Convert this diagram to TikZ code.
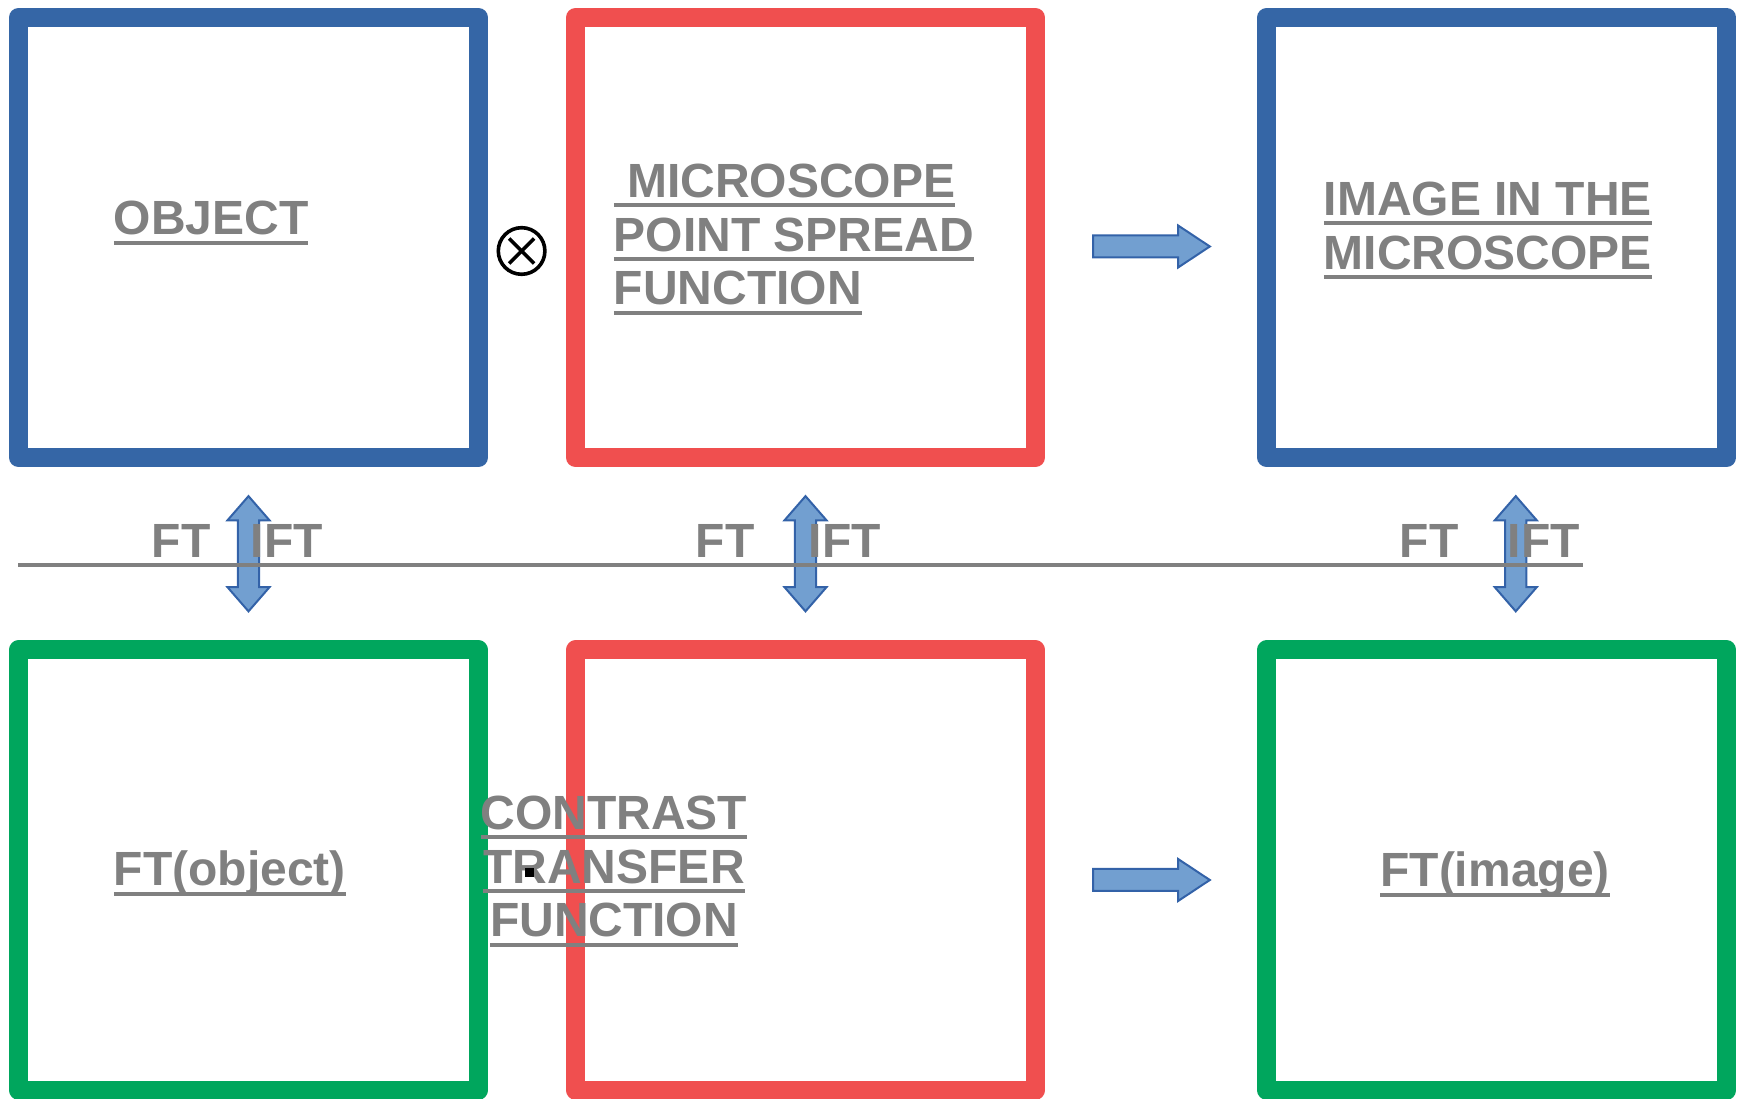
\documentclass[tikz,border=0pt]{standalone}
\usepackage{fontspec}
\setmainfont{Liberation Sans}
\usetikzlibrary{shapes.arrows,calc}
\definecolor{boxblue}{HTML}{3566A6}
\definecolor{boxred}{HTML}{F04F4F}
\definecolor{boxgreen}{HTML}{00A65D}
\definecolor{arrowfill}{HTML}{729FD0}
\definecolor{arrowline}{HTML}{3362A8}
\definecolor{labelgray}{HTML}{808080}
\newcommand{\ulbox}[1]{\setbox0\hbox{#1}\rlap{\rule[-2.4pt]{\wd0}{1pt}}\box0}

\begin{document}
\begin{tikzpicture}[x=0.25pt,y=-0.25pt,
  panel/.style={draw=#1,line width=4.75pt,line join=round,minimum width=115pt,minimum height=110pt,inner sep=0pt},
  caption/.style={text=labelgray,font=\fontsize{12pt}{13.4pt}\selectfont\bfseries,inner sep=0pt},
  ftarrow/.style={double arrow,rotate=90,fill=arrowfill,draw=arrowline,line width=0.5pt,minimum height=28.8pt,inner xsep=0pt,inner ysep=2.4pt,double arrow head extend=2.6pt,double arrow tip angle=82},
  maparrow/.style={single arrow,fill=arrowfill,draw=arrowline,line width=0.5pt,minimum height=29.2pt,inner xsep=0pt,inner ysep=2.5pt,single arrow head extend=2.5pt,single arrow tip angle=67}]
 \useasboundingbox (0,0) rectangle (1744,1099);
 % panels
 \node[panel=boxblue] (obj) at (248.5,237.5) {};
 \node[panel=boxred] (psf) at (805.5,237.5) {};
 \node[panel=boxblue] (img) at (1496.75,237.5) {};
 \node[panel=boxgreen] (ftobj) at (248.5,870) {};
 \node[panel=boxred] (ctf) at (805.5,870) {};
 \node[panel=boxgreen] (ftimg) at (1496.75,870) {};
 % block arrows
 \node[maparrow] (conv) at ($(psf.east)!.5!(img.west)+(-8,9)$) {};
 \node[maparrow] (mult) at ($(ctf.east)!.5!(ftimg.west)+(-8,10)$) {};
 \node[ftarrow] (fta) at ($(obj.south)!.5!(ftobj.north)$) {};
 \node[ftarrow] (ftb) at ($(psf.south)!.5!(ctf.north)$) {};
 \node[ftarrow] (ftc) at ($(img.south)!.5!(ftimg.north)+(19,0)$) {};
 \draw[labelgray,line width=1.2pt] (18,565) -- (1583,565);
 \foreach \n/\x/\t in {a/151/FT,b/250/IFT,c/695/FT,d/808/IFT,e/1399/FT,f/1507/IFT}
  \node[caption,anchor=base west] (lbl\n) at (\x,558) {\t};
 % convolution sign
 \node[circle,draw,line width=0.9pt,minimum size=11.65pt,inner sep=0pt] (otimes) at (521.6,251) {};
 \draw[line width=0.9pt] ($(otimes.center)+(-12.5,-12.5)$) -- ($(otimes.center)+(12.5,12.5)$);
 \draw[line width=0.9pt] ($(otimes.center)+(-12.5,12.5)$) -- ($(otimes.center)+(12.5,-12.5)$);
 % captions (multi-line: base = last line)
 \node[caption,anchor=base west] (objtxt) at (113,235) {\ulbox{OBJECT}};
 \node[caption,anchor=base west,align=left] (psftxt) at (613,305) {\ulbox{\ MICROSCOPE}\\\ulbox{POINT SPREAD}\\\ulbox{FUNCTION}};
 \node[caption,anchor=base west,align=left] (imgtxt) at (1323,269.5) {\ulbox{IMAGE IN THE}\\\ulbox{MICROSCOPE}};
 \node[caption,anchor=base west] (ftobjtxt) at (113,886) {\ulbox{FT(object)}};
 \node[caption,anchor=base,align=center] (ctftxt) at (614,937) {\ulbox{CONTRAST}\\\ulbox{TRANSFER}\\\ulbox{FUNCTION}};
 \node[caption,anchor=base] (ftimgtxt) at (1495,887) {\ulbox{FT(image)}};
 \fill (525,868) rectangle (534,877);
\end{tikzpicture}
\end{document}
